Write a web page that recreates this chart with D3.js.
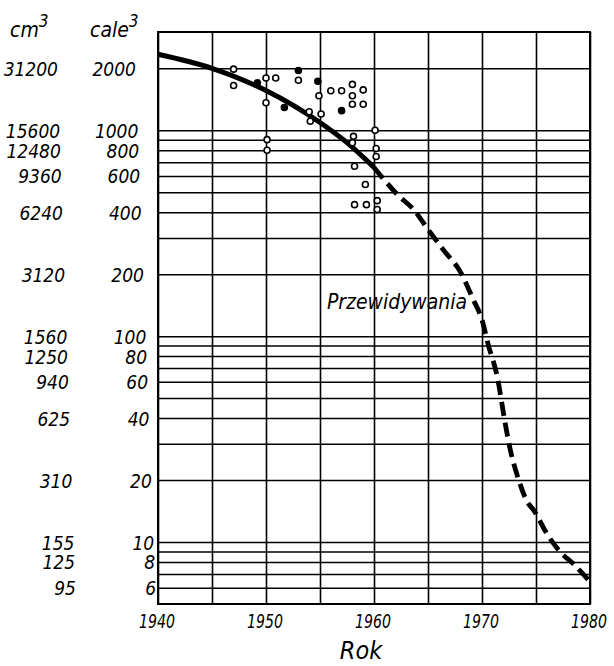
<!DOCTYPE html>
<html>
<head>
<meta charset="utf-8">
<script src="https://cdn.jsdelivr.net/npm/d3@7"></script>
<style>
  body { margin: 0; background: #fff; }
  text { font-family: "DejaVu Sans Condensed", "DejaVu Sans", sans-serif; font-stretch: condensed; font-style: italic; fill: #000; }
</style>
</head>
<body>
<svg id="chart" width="614" height="666"></svg>
<script>
// x axis: years
const yearTicks = [1940, 1950, 1960, 1970, 1980];
const yearGrid = [1940, 1945, 1950, 1955, 1960, 1965, 1970, 1975, 1980];

// y axis (log): grid lines and the two label columns
const volumeGrid = [6, 7, 8, 9, 10, 20, 30, 40, 50, 60, 70, 80, 90, 100,
  200, 300, 400, 500, 600, 700, 800, 900, 1000, 2000];
const caleTicks = [2000, 1000, 800, 600, 400, 200, 100, 80, 60, 40, 20, 10, 8, 6];
const cmLabels = ["31200", "15600", "12480", "9360", "6240", "3120", "1560",
  "1250", "940", "625", "310", "155", "125", "95"];

// trend line: measured part (solid) and forecast (dashed)
const trendYears = [1940, 1945, 1950, 1955, 1957.5, 1960];
const trendValues = [2340, 2000, 1560, 1090, 870, 660];
const forecastYears = [1960, 1961, 1962.2, 1963.7, 1965, 1966.4, 1968, 1969.2, 1970,
  1970.6, 1971.4, 1972.1, 1972.5, 1973.4, 1974.1, 1974.9, 1976, 1977.2, 1978.5, 1980];
const forecastValues = [660, 570, 485, 410, 330, 263, 205, 150, 120,
  90, 64, 39, 30, 20, 16, 14, 11, 9, 7.8, 6.4];

// observed points (year, volume), filled = solid markers
const pointYears = [1947, 1947, 1949.2, 1950, 1950.9, 1950, 1953, 1953, 1951.7, 1950.1, 1950.1,
  1954.8, 1954.9, 1954, 1954.1, 1955.1, 1956, 1957, 1958, 1958, 1959, 1958, 1959, 1957,
  1960.1, 1958.1, 1958, 1960.2, 1960.2, 1958.2, 1959.2, 1958.2, 1959.3, 1960.3, 1960.3];
const pointValues = [1980, 1650, 1700, 1795, 1795, 1360, 1950, 1750, 1290, 900, 800,
  1730, 1470, 1230, 1105, 1200, 1556, 1556, 1670, 1470, 1570, 1337, 1337, 1245,
  1000, 934, 870, 815, 745, 669, 545, 435, 435, 455, 412];
const pointFilled = [0, 0, 1, 0, 0, 0, 1, 0, 1, 0, 0,
  1, 0, 0, 0, 0, 0, 0, 0, 0, 0, 0, 0, 1,
  0, 0, 0, 0, 0, 0, 0, 0, 0, 0, 0];

const svg = d3.select("#chart");
const plotLeft = 158, plotRight = 590, plotTop = 32, plotBottom = 604;
const plotW = plotRight - plotLeft, plotH = plotBottom - plotTop;

const x = d3.scaleLinear().domain([1940, 1980]).range([plotLeft, plotRight]);
const y = d3.scaleLog().domain([5, 3000]).range([plotBottom, plotTop]);

// horizontal grid
svg.append("g")
  .attr("transform", `translate(${plotLeft},0)`)
  .call(d3.axisLeft(y).tickValues(volumeGrid).tickSize(-plotW).tickFormat(""))
  .call(g => g.select(".domain").remove())
  .selectAll("line").attr("stroke", "#000").attr("stroke-width", 1.5);

// vertical grid
svg.append("g")
  .attr("transform", `translate(0,${plotBottom})`)
  .call(d3.axisBottom(x).tickValues(yearGrid).tickSize(-plotH).tickFormat(""))
  .call(g => g.select(".domain").remove())
  .selectAll("line").attr("stroke", "#000").attr("stroke-width", 1.6);

// frame
svg.append("rect")
  .attr("x", plotLeft).attr("y", plotTop).attr("width", plotW).attr("height", plotH)
  .attr("fill", "none").attr("stroke", "#000").attr("stroke-width", 2);

// year labels (narrow lettering, as in the print)
svg.append("g").selectAll("text")
  .data(yearTicks)
  .join("text")
  .attr("x", d => x(d) - 19)
  .attr("y", plotBottom + 24)
  .attr("font-size", 19)
  .attr("textLength", 36)
  .attr("lengthAdjust", "spacingAndGlyphs")
  .text(d => d);

// the scan drifts a little to the right going down
const drift = v => (y(v) - y(2000)) / (y(6) - y(2000));

svg.append("g").selectAll("text")
  .data(caleTicks)
  .join("text")
  .attr("x", d => 136 + 20 * drift(d))
  .attr("y", d => y(d) + 7.5)
  .attr("text-anchor", "end")
  .attr("font-size", 19)
  .text(d => d);

svg.append("g").selectAll("text")
  .data(cmLabels)
  .join("text")
  .attr("x", (d, i) => 58 + 18 * drift(caleTicks[i]))
  .attr("y", (d, i) => y(caleTicks[i]) + 7.5)
  .attr("text-anchor", "end")
  .attr("font-size", 19)
  .text(d => d);

// unit headers
const unit = (tx, label) => {
  const t = svg.append("text").attr("x", tx).attr("y", 37).attr("font-size", 21);
  t.append("tspan").text(label);
  t.append("tspan").attr("font-size", 17).attr("dy", -10).text("3");
};
unit(10, "cm");
unit(90, "cale");

// label for the forecast
svg.append("text")
  .attr("x", 327).attr("y", 309)
  .attr("font-size", 22)
  .attr("textLength", 140)
  .attr("lengthAdjust", "spacingAndGlyphs")
  .text("Przewidywania");

// trend lines
const line = d3.line().x(d => x(d[0])).y(d => y(d[1])).curve(d3.curveMonotoneX);

svg.append("path")
  .datum(d3.zip(trendYears, trendValues))
  .attr("d", line)
  .attr("fill", "none").attr("stroke", "#000").attr("stroke-width", 5);

svg.append("path")
  .datum(d3.zip(forecastYears, forecastValues))
  .attr("d", line)
  .attr("fill", "none").attr("stroke", "#000").attr("stroke-width", 4.8)
  .attr("stroke-dasharray", "14,7");

// observations
svg.append("g").selectAll("circle")
  .data(d3.zip(pointYears, pointValues, pointFilled))
  .join("circle")
  .attr("cx", d => x(d[0]))
  .attr("cy", d => y(d[1]))
  .attr("r", 3)
  .attr("fill", d => d[2] ? "#000" : "#fff")
  .attr("stroke", "#000").attr("stroke-width", 1.6);

// axis title
svg.append("text")
  .attr("x", 361).attr("y", 659)
  .attr("text-anchor", "middle")
  .attr("font-size", 25)
  .text("Rok");
</script>
</body>
</html>
